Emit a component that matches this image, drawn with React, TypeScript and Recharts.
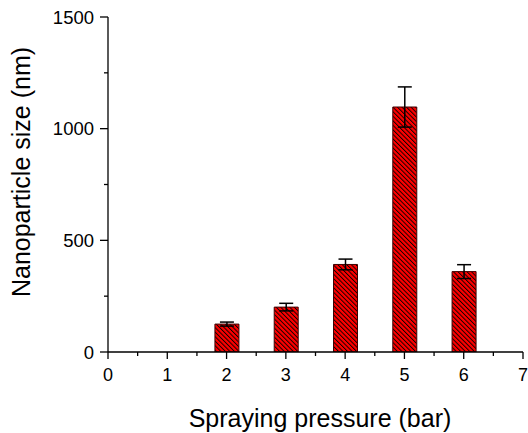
import React from 'react';
import { BarChart, Bar, XAxis, YAxis, ErrorBar, Label } from 'recharts';

const pressures = [2, 3, 4, 5, 6];
const sizes = [125, 201, 392, 1097, 360];
const sizeErrors = [9, 17, 24, 90, 31];

const xTicks = [0, 0.5, 1, 1.5, 2, 2.5, 3, 3.5, 4, 4.5, 5, 5.5, 6, 6.5, 7];
const yTicks = [0, 250, 500, 750, 1000, 1250, 1500];

const data = pressures.map((p, i) => ({ pressure: p, size: sizes[i], err: sizeErrors[i] }));

const FONT = '"Liberation Sans", Arial, Helvetica, sans-serif';

// ─── Custom ticks (major + minor) ───────────────────────────────

function XTick({ x, y, payload }: any) {
  const major = Number.isInteger(payload.value);
  return (
    <g>
      <line x1={x} x2={x} y1={y} y2={y + (major ? 7 : 4)} stroke="#000" strokeWidth={1.3} />
      {major && (
        <text x={x} y={y + 29} textAnchor="middle" fontFamily={FONT} fontSize={18} fill="#000">
          {payload.value}
        </text>
      )}
    </g>
  );
}

function YTick({ x, y, payload }: any) {
  const major = payload.value % 500 === 0;
  return (
    <g>
      <line x1={x} x2={x - (major ? 8 : 4)} y1={y} y2={y} stroke="#000" strokeWidth={1.3} />
      {major && (
        <text x={x - 14} y={y + 6.5} textAnchor="end" fontFamily={FONT} fontSize={18.5} fill="#000">
          {payload.value}
        </text>
      )}
    </g>
  );
}

const xLabel = () => (
  <text x={320} y={427} textAnchor="middle" fontFamily={FONT} fontSize={25} fill="#000">
    Spraying pressure (bar)
  </text>
);

const yLabel = () => (
  <text
    transform="translate(30,172) rotate(-90)"
    textAnchor="middle"
    fontFamily={FONT}
    fontSize={25}
    fill="#000"
  >
    Nanoparticle size (nm)
  </text>
);

export default function App() {
  return (
    <div style={{ position: 'absolute', left: 0, top: 0, background: '#fff' }}>
      <svg width={0} height={0} style={{ position: 'absolute' }}>
        <defs>
          <pattern id="hatch" patternUnits="userSpaceOnUse" width={3.2} height={3.2} patternTransform="rotate(-45)">
            <rect width={3.2} height={3.2} fill="#ff0000" />
            <line x1={0.5} y1={0} x2={0.5} y2={3.2} stroke="#000" strokeWidth={0.9} />
          </pattern>
        </defs>
      </svg>
      <BarChart width={528} height={433} data={data} margin={{ top: 17, right: 5, left: 0, bottom: 0 }}>
        <XAxis
          dataKey="pressure"
          type="number"
          domain={[0, 7]}
          ticks={xTicks}
          interval={0}
          height={81}
          tickSize={0}
          tickMargin={0}
          tickLine={false}
          tick={<XTick />}
          axisLine={{ stroke: '#000', strokeWidth: 1.3 }}
          allowDataOverflow
        >
          <Label content={xLabel} />
        </XAxis>
        <YAxis
          type="number"
          domain={[0, 1500]}
          ticks={yTicks}
          interval={0}
          width={108}
          tickSize={0}
          tickMargin={0}
          tickLine={false}
          tick={<YTick />}
          axisLine={{ stroke: '#000', strokeWidth: 1.3 }}
          allowDataOverflow
        >
          <Label content={yLabel} />
        </YAxis>
        <Bar dataKey="size" barSize={24} fill="url(#hatch)" stroke="#400000" strokeWidth={1} isAnimationActive={false}>
          <ErrorBar dataKey="err" width={7} stroke="#000" strokeWidth={1.5} isAnimationActive={false} />
        </Bar>
      </BarChart>
    </div>
  );
}
